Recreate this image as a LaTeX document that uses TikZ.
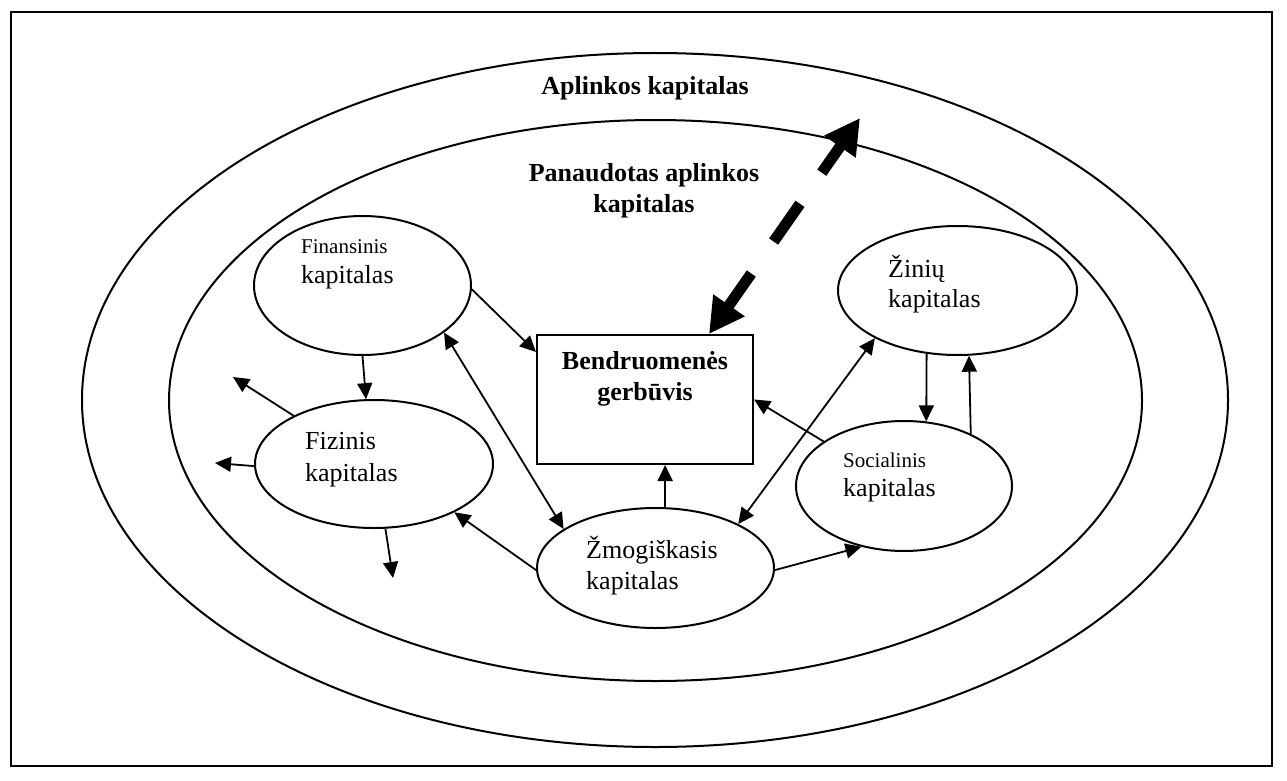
\documentclass[tikz,border=0pt]{standalone}
\usepackage{fontspec}
\setmainfont{Liberation Serif}
\usetikzlibrary{shapes.geometric,arrows.meta}
\begin{document}
\begin{tikzpicture}[x=1pt,y=-1pt,
  ring/.style={draw, line width=2pt, ellipse, inner sep=0pt},
  capbox/.style={draw, line width=2pt, rectangle, inner sep=0pt},
  link/.style={line width=1.8pt, -{Triangle[length=16pt,width=15pt]}},
  twoway/.style={line width=1.8pt, {Triangle[length=16pt,width=15pt]}-{Triangle[length=16pt,width=15pt]}},
  flow/.style={line width=11pt,
    {Triangle[length=35pt,width=36pt]}-{Triangle[length=35pt,width=36pt]},
    dash pattern=on 41pt off 39pt on 46pt off 38pt on 80pt off 1pt},
  txt/.style={inner sep=0pt, font=\fontsize{26}{31}\selectfont},
  txtsmall/.style={inner sep=0pt, font=\fontsize{21}{25}\selectfont},
  txtbold/.style={inner sep=0pt, font=\fontsize{26}{31}\selectfont\bfseries},
]
\useasboundingbox (0,0) rectangle (1287,781);

% page frame
\draw[line width=2.5pt] (11,12) rectangle (1272,766);

% environment rings
\node[ring, minimum width=1146pt, minimum height=694pt] (env) at (655,400) {};
\node[ring, minimum width=973pt, minimum height=561pt] (used) at (655.5,400.5) {};

\node[txtbold, anchor=base] (envlbl) at (645,95) {Aplinkos kapitalas};
\node[txtbold, anchor=base] (usedlbl1) at (644,181) {Panaudotas aplinkos};
\node[txtbold, anchor=base] (usedlbl2) at (644,212) {kapitalas};

% capital stocks
\node[ring, minimum width=217pt, minimum height=139pt] (fin) at (362.5,285.5) {};
\node[ring, minimum width=238pt, minimum height=128pt] (fiz) at (374,464) {};
\node[ring, minimum width=237pt, minimum height=120pt] (zm)  at (655.5,568) {};
\node[ring, minimum width=239pt, minimum height=129pt] (zin) at (957.5,290.5) {};
\node[ring, minimum width=216pt, minimum height=130pt] (soc) at (904,486) {};

\node[capbox, minimum width=216pt, minimum height=129pt] (box) at (645,399.5) {};
\node[txtbold, anchor=base] (boxlbl1) at (645,369) {Bendruomenės};
\node[txtbold, anchor=base] (boxlbl2) at (645,400) {gerbūvis};

\node[txtsmall, anchor=base west] (finlbl1) at (301,253) {Finansinis};
\node[txt, anchor=base west] (finlbl2) at (301,283) {kapitalas};
\node[txt, anchor=base west] (fizlbl1) at (305,449) {Fizinis};
\node[txt, anchor=base west] (fizlbl2) at (305,481) {kapitalas};
\node[txt, anchor=base west] (zmlbl1) at (586,558) {Žmogiškasis};
\node[txt, anchor=base west] (zmlbl2) at (586,589) {kapitalas};
\node[txt, anchor=base west] (zinlbl1) at (888,277) {Žinių};
\node[txt, anchor=base west] (zinlbl2) at (888,307) {kapitalas};
\node[txtsmall, anchor=base west] (soclbl1) at (843,467) {Socialinis};
\node[txt, anchor=base west] (soclbl2) at (843,496) {kapitalas};

% free ends of the outgoing flows
\coordinate (outA) at (233,377);
\coordinate (outB) at (215,463);
\coordinate (outC) at (393,578);
\coordinate (outD) at (860,118);

% connectors
\draw[link] (fin.-2.4) -- ([yshift=-18pt]box.north west);
\draw[link] (fin.south) -- (fiz.97);
\draw[link] (fiz.149) -- (outA);
\draw[link] (fiz.181) -- (outB);
\draw[link] (fiz.-80) -- (outC);
\draw[twoway] (fin.-30.5) -- (zm.157.2);
\draw[link] (zm.181.5) -- (fiz.-31);
\draw[link] (zm.81) -- (zm.81 |- box.south);
\draw[link] (zm.-1.5) -- (soc.-125.4);
\draw[twoway] (zm.28.2) -- (zin.-150.1);
\draw[link] (soc.151.4) -- (box.east);
\draw[link] (zin.-116) -- (soc.71.6);
\draw[link] (soc.38.8) -- (zin.-80);

% exchange with the environment
\draw[flow] ([xshift=64pt]box.north) -- (outD);
\end{tikzpicture}
\end{document}
